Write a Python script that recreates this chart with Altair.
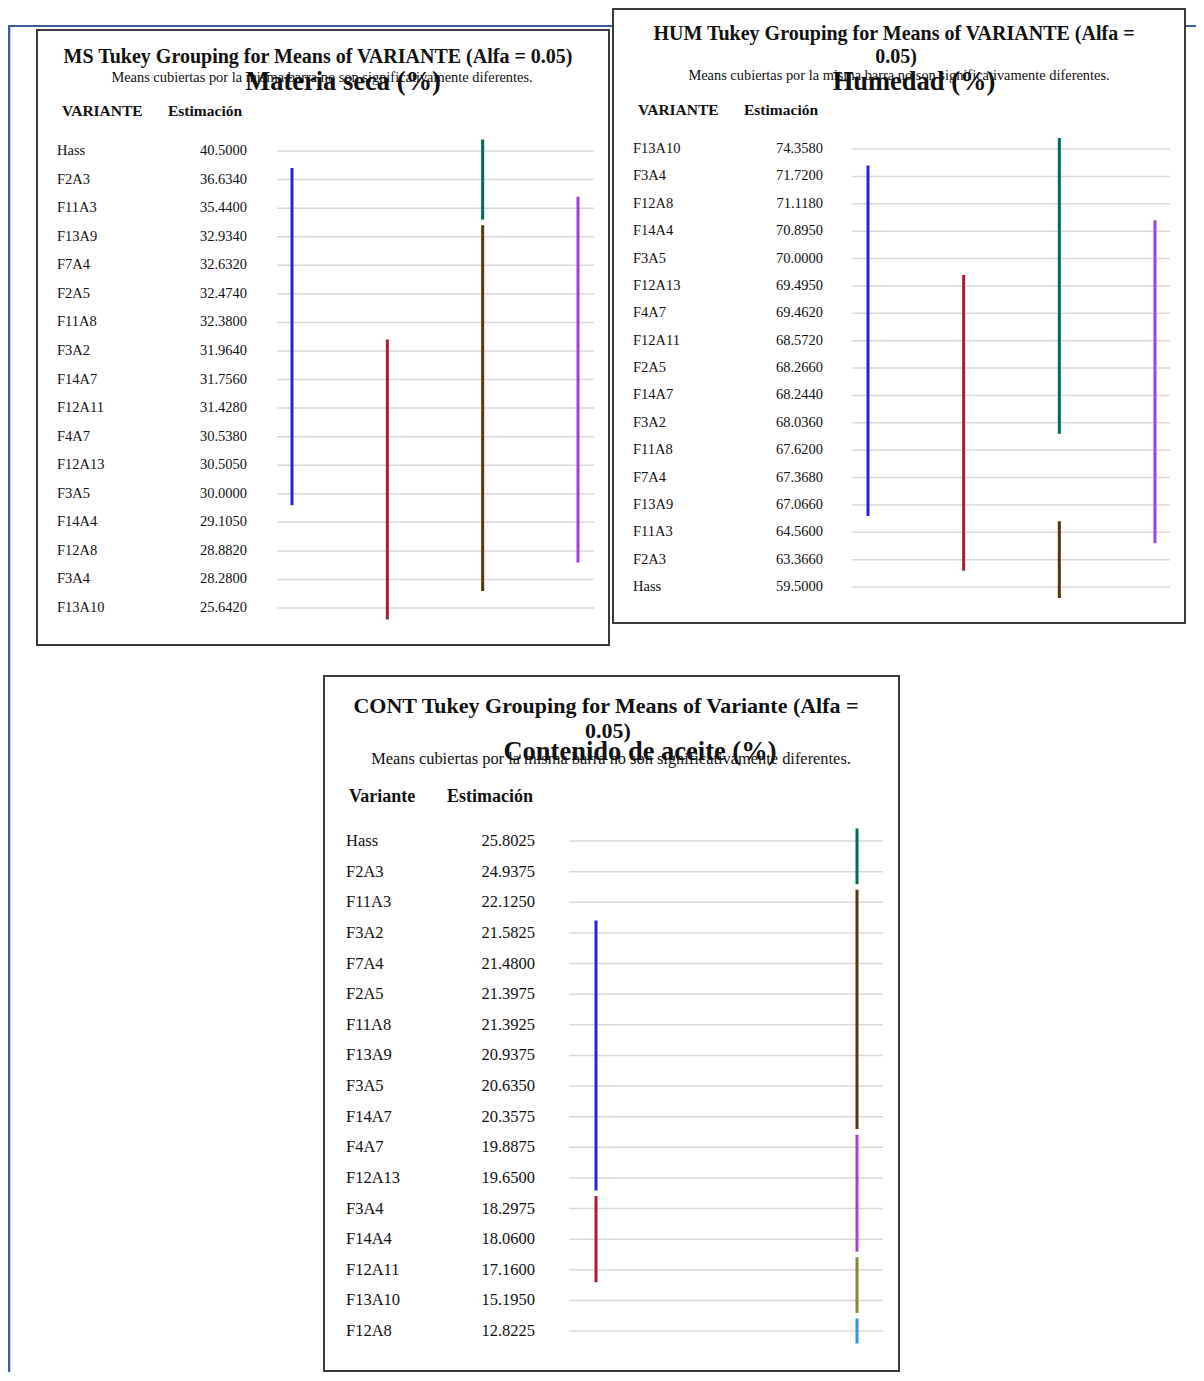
import altair as alt
import pandas as pd

FONT = "Liberation Serif"

# ---------------- data ----------------
ms_variants = ["Hass", "F2A3", "F11A3", "F13A9", "F7A4", "F2A5", "F11A8", "F3A2", "F14A7",
               "F12A11", "F4A7", "F12A13", "F3A5", "F14A4", "F12A8", "F3A4", "F13A10"]
ms_est = [40.5, 36.634, 35.44, 32.934, 32.632, 32.474, 32.38, 31.964, 31.756,
          31.428, 30.538, 30.505, 30.0, 29.105, 28.882, 28.28, 25.642]
ms_group_id = ["1", "2", "3", "4", "5"]
ms_group_start = ["F2A3", "F3A2", "Hass", "F13A9", "F11A3"]
ms_group_end = ["F3A5", "F13A10", "F11A3", "F3A4", "F12A8"]
ms_group_col = [1, 2, 3, 3, 4]

hum_variants = ["F13A10", "F3A4", "F12A8", "F14A4", "F3A5", "F12A13", "F4A7", "F12A11", "F2A5",
                "F14A7", "F3A2", "F11A8", "F7A4", "F13A9", "F11A3", "F2A3", "Hass"]
hum_est = [74.358, 71.72, 71.118, 70.895, 70.0, 69.495, 69.462, 68.572, 68.266,
           68.244, 68.036, 67.62, 67.368, 67.066, 64.56, 63.366, 59.5]
hum_group_id = ["1", "2", "3", "4", "5"]
hum_group_start = ["F3A4", "F12A13", "F13A10", "F11A3", "F14A4"]
hum_group_end = ["F13A9", "F2A3", "F3A2", "Hass", "F11A3"]
hum_group_col = [1, 2, 3, 3, 4]

cont_variants = ["Hass", "F2A3", "F11A3", "F3A2", "F7A4", "F2A5", "F11A8", "F13A9", "F3A5",
                 "F14A7", "F4A7", "F12A13", "F3A4", "F14A4", "F12A11", "F13A10", "F12A8"]
cont_est = [25.8025, 24.9375, 22.125, 21.5825, 21.48, 21.3975, 21.3925, 20.9375, 20.635,
            20.3575, 19.8875, 19.65, 18.2975, 18.06, 17.16, 15.195, 12.8225]
cont_group_id = ["1", "2", "3", "4", "5", "6", "7"]
cont_group_start = ["F3A2", "F3A4", "Hass", "F11A3", "F4A7", "F12A11", "F12A8"]
cont_group_end = ["F12A13", "F12A11", "F2A3", "F14A7", "F14A4", "F13A10", "F12A8"]
cont_group_col = [1, 1, 2, 2, 2, 2, 2]

all_group_ids = ["1", "2", "3", "4", "5", "6", "7"]
group_colors = ["#2b22dc", "#b0182e", "#006a5a", "#5a3505", "#a33fdc", "#87892a", "#2a98ee"]

ms_title = ["MS Tukey Grouping for Means of VARIANTE (Alfa = 0.05)"]
hum_title = ["HUM Tukey Grouping for Means of VARIANTE (Alfa =", "0.05)"]
cont_title = ["CONT Tukey Grouping for Means of Variante (Alfa =", "0.05)"]
subtitle = "Means cubiertas por la misma barra no son significativamente diferentes."
ms_big = "Materia seca (%)"
hum_big = "Humedad (%)"
cont_big = "Contenido de aceite (%)"

# ---------------- layout (page pixels) ----------------
W, H = 1188, 1364


def P(x):
    return x - 8


def Q(y):
    return y - 8


one = alt.Data(values=[{}])


def text_at(s, x, y, size, bold=False, align="center"):
    return alt.Chart(one).mark_text(
        text=s, font=FONT, fontSize=size, fontWeight="bold" if bold else "normal",
        align=align, baseline="middle", color="#111"
    ).encode(x=alt.value(P(x)), y=alt.value(Q(y)))


def panel(variants, est, gid, gstart, gend, gcol, L):
    df = pd.DataFrame({"variante": variants, "estimacion": est})
    gdf = pd.DataFrame({"grupo": gid, "start": gstart, "end": gend, "col": gcol})
    ysc = alt.Scale(type="point", domain=variants, range=[Q(L["row0"]), Q(L["row1"])], padding=0)
    cols = sorted(set(gcol))
    xsc = alt.Scale(type="point", domain=cols, range=[P(L["cols"][0]), P(L["cols"][1])], padding=0)
    layers = []
    # box
    layers.append(alt.Chart(one).mark_rect(fill="white", stroke="#3a3a3a", strokeWidth=2).encode(
        x=alt.value(P(L["box"][0])), x2=alt.value(P(L["box"][2])),
        y=alt.value(Q(L["box"][1])), y2=alt.value(Q(L["box"][3]))))
    # gridlines
    layers.append(alt.Chart(df).mark_rule(color="#d9d9d9", strokeWidth=1.5).encode(
        y=alt.Y("variante:N", scale=ysc, axis=None),
        x=alt.value(P(L["grid"][0])), x2=alt.value(P(L["grid"][1]))))
    # labels
    layers.append(alt.Chart(df).mark_text(align="left", baseline="middle", font=FONT,
                                          fontSize=L["fs"], color="#111").encode(
        y=alt.Y("variante:N", scale=ysc, axis=None), x=alt.value(P(L["lx"])),
        text="variante:N"))
    layers.append(alt.Chart(df).mark_text(align="right", baseline="middle", font=FONT,
                                          fontSize=L["fs"], color="#111").encode(
        y=alt.Y("variante:N", scale=ysc, axis=None), x=alt.value(P(L["ex"])),
        text=alt.Text("estimacion:Q", format=".4f")))
    # grouping bars
    layers.append(alt.Chart(gdf).mark_rule(strokeWidth=3, strokeCap="butt",
                                           yOffset=-L["off"], y2Offset=L["off"]).encode(
        x=alt.X("col:O", scale=xsc, axis=None),
        y=alt.Y("start:N", scale=ysc, axis=None), y2="end:N",
        color=alt.Color("grupo:N", scale=alt.Scale(domain=all_group_ids, range=group_colors),
                        legend=None)))
    # headers
    layers.append(text_at(L["h1"], L["hx"][0], L["hy"], L["hfs"], bold=True, align="left"))
    layers.append(text_at("Estimación", L["hx"][1], L["hy"], L["hfs"], bold=True, align="left"))
    # titles
    for t, (tx, ty) in zip(L["title"], L["tpos"]):
        layers.append(text_at(t, tx, ty, L["tfs"], bold=True))
    layers.append(text_at(subtitle, L["spos"][0], L["spos"][1], L["sfs"]))
    layers.append(text_at(L["big"], L["bpos"][0], L["bpos"][1], 26.5, bold=True))
    return layers


ms_L = dict(box=(37, 30, 609, 645), row0=151, row1=608, lx=57, ex=247, grid=(277, 594),
            cols=(292, 578), off=11.5, fs=14.5, h1="VARIANTE", hx=(62, 168), hy=111, hfs=15.5,
            title=ms_title, tpos=[(318, 57)], tfs=20, spos=(322, 78), sfs=14.4,
            big=ms_big, bpos=(343, 82))
hum_L = dict(box=(613, 9, 1185, 623), row0=149, row1=587, lx=633, ex=823, grid=(852, 1170),
             cols=(868, 1155), off=11, fs=14.5, h1="VARIANTE", hx=(638, 744), hy=110, hfs=15.5,
             title=hum_title, tpos=[(894, 34), (896, 57)], tfs=20, spos=(899, 76), sfs=14.4,
             big=hum_big, bpos=(914, 82))
cont_L = dict(box=(324, 676, 899, 1371), row0=841, row1=1331, lx=346, ex=535, grid=(569, 883),
              cols=(596, 857), off=12.5, fs=16.5, h1="Variante", hx=(349, 447), hy=797, hfs=18,
              title=cont_title, tpos=[(606, 706), (608, 731)], tfs=22, spos=(611, 759), sfs=16.4,
              big=cont_big, bpos=(640, 752))

frame = [
    alt.Chart(one).mark_rule(color="#3f5f9c", strokeWidth=2).encode(
        x=alt.value(0), x2=alt.value(W), y=alt.value(Q(26))),
    alt.Chart(one).mark_rule(color="#3f5f9c", strokeWidth=2.5).encode(
        x=alt.value(1), y=alt.value(Q(25)), y2=alt.value(H)),
]

layers = frame
layers += panel(ms_variants, ms_est, ms_group_id, ms_group_start, ms_group_end, ms_group_col, ms_L)
layers += panel(hum_variants, hum_est, hum_group_id, hum_group_start, hum_group_end, hum_group_col, hum_L)
layers += panel(cont_variants, cont_est, cont_group_id, cont_group_start, cont_group_end, cont_group_col, cont_L)

chart = alt.layer(*layers).resolve_scale(
    x="independent", y="independent", color="independent"
).properties(
    width=W, height=H, autosize=alt.AutoSizeParams(type="none"), padding=0
).configure_view(stroke=None)

chart.save("out.html", embed_options={"renderer": "svg", "actions": False})
